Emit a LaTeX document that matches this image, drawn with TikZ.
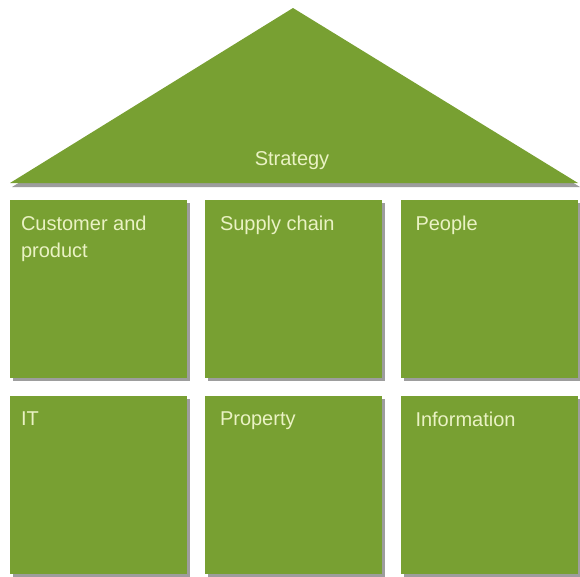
\documentclass[tikz,border=0pt]{standalone}
\usepackage{fontspec}
\setmainfont{Liberation Sans}
\usetikzlibrary{shadows,positioning}
\definecolor{leaf}{HTML}{78A032}
\definecolor{cream}{HTML}{EAF2C4}
\tikzset{
  tile/.style={fill=leaf, minimum width=177pt, minimum height=178pt, inner sep=0pt,
    drop shadow={shadow xshift=3pt, shadow yshift=-3pt, opacity=0.55, fill=black!70}},
  tiletext/.style={anchor=north west, text=cream, align=left, inner xsep=15pt, inner ysep=16pt,
    font=\fontsize{20}{27}\selectfont}
}

\begin{document}
\begin{tikzpicture}[x=1pt,y=-1pt]
			%%%%% START %%%%%
			\useasboundingbox (0,0) rectangle (580,576);

			% roof
			\draw[fill=leaf, draw=none, drop shadow={shadow xshift=2pt, shadow yshift=-4pt, opacity=0.55, fill=black!70}]
			  (10,183) -- (293,8) -- (578,183) -- cycle;
			\node[text=cream, font=\fontsize{20}{27}\selectfont] (strategy) at (292,161) {Strategy};

			% upper row
			\node[tile] (cust) at (98.5,289) {};
			\node[tile] (supply) at (293.5,289) {};
			\node[tile] (people) at (489,289) {};

			% lower row
			\node[tile] (it) at (98.5,484.5) {};
			\node[tile] (property) at (293.5,484.5) {};
			\node[tile] (info) at (489,484.5) {};

			\node[tiletext, inner xsep=11pt] at (cust.north west) {Customer and\\product};
			\node[tiletext] at (supply.north west) {Supply chain};
			\node[tiletext] at (people.north west) {People};
			\node[tiletext, inner xsep=11pt] at (it.north west) {IT};
			\node[tiletext] at (property.north west) {Property};
			\node[tiletext] at (info.north west) {Information};
			%%%%% END %%%%%
\end{tikzpicture}
\end{document}
